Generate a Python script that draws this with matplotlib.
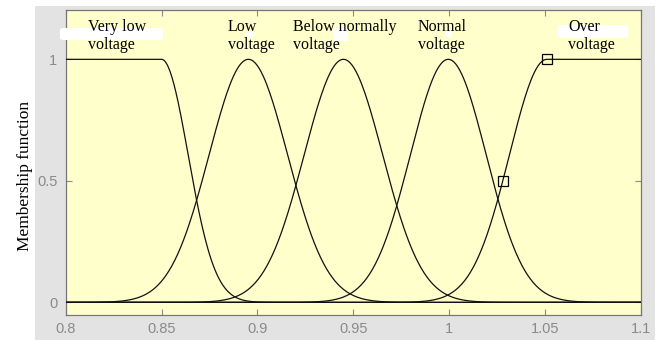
import numpy as np
import matplotlib.pyplot as plt
from matplotlib.patches import Rectangle, FancyBboxPatch

# ======================
# Data (membership functions)
# ======================
mf_names = ["Very low\nvoltage", "Low\nvoltage", "Below normally\nvoltage",
            "Normal\nvoltage", "Over\nvoltage"]
mf_centers = [0.850, 0.8953, 0.9449, 0.9996, 1.051]
mf_sigmas = [0.0139, 0.0205, 0.0205, 0.0198, 0.0195]
mf_shape = ["left", "gauss", "gauss", "gauss", "right"]   # left/right = shoulder

label_x = [0.8116, 0.8847, 0.9184, 0.9838, 1.0621]

marker_x = [1.051, 1.028]
marker_y = [1.0, 0.5]

x_ticks = [0.8, 0.85, 0.9, 0.95, 1.0, 1.05, 1.1]
x_ticklabels = ["0.8", "0.85", "0.9", "0.95", "1", "1.05", "1.1"]
y_ticks = [0, 0.5, 1]
y_ticklabels = ["0", "0.5", "1"]

# ======================
# Style
# ======================
BG_GRAY = "#e3e3e3"
AX_YELLOW = "#ffffcc"
TICK_GRAY = "#8a8a8a"
SERIF = ["Liberation Serif", "DejaVu Serif"]
SANS = ["Liberation Sans", "DejaVu Sans"]


def mf(x, c, s, shape):
    y = np.exp(-(x - c) ** 2 / (2 * s ** 2))
    if shape == "left":
        y[x < c] = 1.0
    elif shape == "right":
        y[x > c] = 1.0
    return y


fig = plt.figure(figsize=(6.67, 3.40), dpi=100, facecolor="white")
# grey panel behind the axes (white strip on the left / top / right)
fig.patches.append(Rectangle((35 / 667, 0), (655 - 35) / 667, 1 - 6 / 340,
                             transform=fig.transFigure, facecolor=BG_GRAY,
                             edgecolor="none", zorder=-1))

ax = fig.add_axes([65.7 / 667, 1 - 315 / 340, (640.7 - 65.7) / 667, (315 - 10) / 340])
ax.set_facecolor(AX_YELLOW)

x = np.linspace(0.8, 1.1, 601)
for c, s, shp in zip(mf_centers, mf_sigmas, mf_shape):
    ax.plot(x, mf(x, c, s, shp), color="#111111", lw=0.9, zorder=3)

ax.plot(marker_x, marker_y, ls="none", marker="s", ms=7.5, mfc="none",
        mec="black", mew=0.9, zorder=4)

ax.set_xlim(0.8, 1.1)
ax.set_ylim(-0.052, 1.203)
ax.set_xticks(x_ticks)
ax.set_xticklabels(x_ticklabels)
ax.set_yticks(y_ticks)
ax.set_yticklabels(y_ticklabels)
ax.tick_params(direction="in", length=4, width=0.8, color=TICK_GRAY,
               labelcolor=TICK_GRAY, labelsize=10.5, top=True, right=True)
ax.tick_params(axis="x", pad=5)
ax.tick_params(axis="y", pad=6)
for lab in ax.get_xticklabels() + ax.get_yticklabels():
    lab.set_family(SANS)
for side in ax.spines:
    ax.spines[side].set_color("#777777")
    ax.spines[side].set_linewidth(0.9)

# white smudges left over behind the labels
blobs = [(60, 28, 103, 12), (245, 32, 10, 5), (333, 28, 15, 13),
         (445, 30, 7, 7), (558, 25, 70, 13)]
for bx, by, bw, bh in blobs:
    ax.add_patch(FancyBboxPatch((bx / 667, 1 - (by + bh) / 340), bw / 667, bh / 340,
                                boxstyle="round,pad=0,rounding_size=0.006",
                                transform=fig.transFigure, facecolor="white",
                                edgecolor="none", zorder=5, clip_on=False))

for name, lx in zip(mf_names, label_x):
    ax.text(lx, 1.168, name, ha="left", va="top", fontsize=11.5, family=SERIF,
            linespacing=1.2, zorder=6)

fig.text(25 / 667, 1 - 176 / 340, "Membership function", rotation=90,
         ha="center", va="center", fontsize=12.5, family=SERIF)

fig.savefig("out.png", dpi=100, facecolor=fig.get_facecolor())
